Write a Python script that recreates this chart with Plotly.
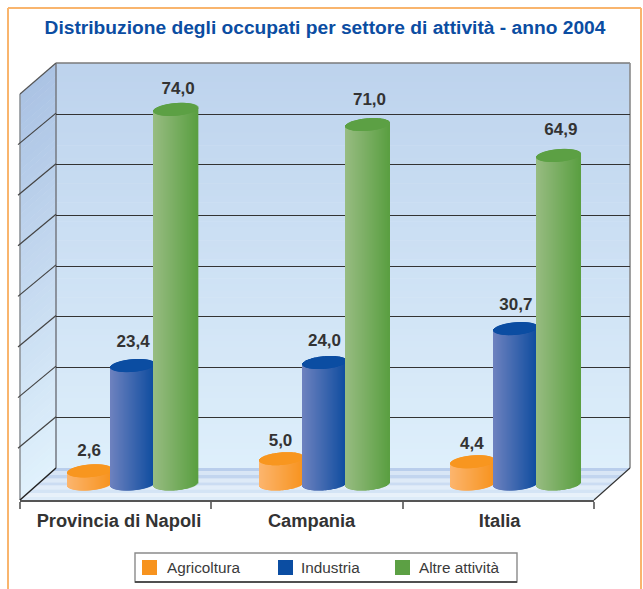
import numpy as np
import plotly.graph_objects as go

categories = ["Provincia di Napoli", "Campania", "Italia"]
agricoltura = [2.6, 5.0, 4.4]
industria = [23.4, 24.0, 30.7]
altre = [74.0, 71.0, 64.9]
series_names = ["Agricoltura", "Industria", "Altre attività"]
value_ticks = [0, 10, 20, 30, 40, 50, 60, 70]

W, H = 643, 589
FONT = "Liberation Sans"


def px(x):
    return x / W


def py(y):
    return 1 - y / H


def hex2rgb(c):
    return np.array([int(c[i:i + 2], 16) for i in (1, 3, 5)], float)


def mix(a, b, f):
    v = hex2rgb(a) * (1 - f) + hex2rgb(b) * f
    return "rgb(%d,%d,%d)" % tuple(np.round(v))


def path(points):
    s = "M" + " L".join(f"{px(a):.5f},{py(b):.5f}" for a, b in points) + " Z"
    return dict(type="path", path=s, xref="paper", yref="paper", layer="below", line_width=0)


shapes = []
# back wall
n = 64
for i in range(n):
    y0 = 63 + i * 405 / n
    y1 = y0 + 405 / n + 0.6
    s = path([(56, y0), (630, y0), (630, y1), (56, y1)])
    s["fillcolor"] = mix("#BDD3ED", "#DEEFFB", i / (n - 1))
    shapes.append(s)
# left wall
for i in range(n):
    f0 = i * 405 / n
    f1 = f0 + 405 / n + 0.6
    s = path([(20, 94 + f0), (56, 63 + f0), (56, 63 + f1), (20, 94 + f1)])
    s["fillcolor"] = mix("#ABC3E4", "#E0F1FC", i / (n - 1))
    shapes.append(s)
# floor bands
bands = 9
band = 32 / bands
for i in range(bands):
    y0, y1 = 468 + i * band, 468 + (i + 1) * band
    xl0, xl1 = 56 - (y0 - 468) * 36 / 32, 56 - (y1 - 468) * 36 / 32
    s = path([(xl0, y0), (xl0 + 574, y0), (xl1 + 574, y1), (xl1, y1)])
    f = i / (bands - 1)
    s["fillcolor"] = mix("#B9CEEC", "#DDEBF8", f) if i % 2 == 0 else mix("#D6E4F5", "#EAF3FB", f)
    shapes.append(s)


def seg(x0, y0, x1, y1, color, width):
    return dict(type="line", xref="paper", yref="paper", x0=px(x0), y0=py(y0), x1=px(x1), y1=py(y1),
                line=dict(color=color, width=width), layer="below")


# wall edges and side gridlines
shapes.append(seg(56, 63, 630, 63, "#7A7A7A", 1.5))
shapes.append(seg(630, 63, 630, 468, "#8A8A8A", 1.6))
shapes.append(seg(56, 63, 56, 468, "#7A7F88", 1.6))
shapes.append(seg(20, 94, 20, 500, "#8F9499", 1.6))
shapes.append(seg(20, 94, 56, 63, "#555555", 1.2))
for k in range(1, 8):
    yb = 63 + k * 50.6
    shapes.append(seg(18, yb + 31, 56, yb - 0.5, "#444444", 1.2))
shapes.append(seg(20, 500, 56, 468, "#222222", 1.5))
shapes.append(seg(594, 500, 630, 468, "#333333", 1.2))

# page frame
shapes.append(seg(8, 8, 641, 8, "#F9B56E", 2))
shapes.append(seg(8, 8, 8, 589, "#F9B56E", 2))
shapes.append(seg(641, 8, 641, 589, "#F9B56E", 2))

# legend box and swatches
legend_colors = ["#F7931E", "#0B4DA2", "#5CA044"]
legend_sw = [142, 278, 395]
legend_tx = [165, 299, 417]
shapes.append(dict(type="rect", xref="paper", yref="paper", x0=px(135), x1=px(517), y0=py(582), y1=py(553),
                   line=dict(color="#8A8A8A", width=1.4), fillcolor="white", layer="below"))
shapes.append(seg(135, 582, 517, 582, "#333333", 1.3))
annotations = []
for name, c, a, b in zip(series_names, legend_colors, legend_sw, legend_tx):
    shapes.append(dict(type="rect", xref="paper", yref="paper", x0=px(a), x1=px(a + 15), y0=py(575), y1=py(560),
                       line_width=0, fillcolor=c, layer="below"))
    annotations.append(dict(xref="paper", yref="paper", x=px(b), y=py(567.5), text=name, showarrow=False,
                            xanchor="left", yanchor="middle", font=dict(family=FONT, size=15.3, color="#3A3A3A")))

fig = go.Figure()

# wall subplot: carries the value gridlines
fig.add_trace(go.Scatter(x=[None], y=[None], xaxis="x", yaxis="y", showlegend=False, hoverinfo="skip"))

PX_PER_UNIT = 405 / 80
PX_PER_CAT = 574 / 3
bar_w = 44 / PX_PER_CAT
group_shift = 17.5 / PX_PER_CAT
series_step = 43 / PX_PER_CAT
cap_h = 6.3 / PX_PER_UNIT
tilt = 1.8 / PX_PER_UNIT
strips = 44
u = (np.arange(strips) + 0.5) / strips * 2 - 1
rim = np.sqrt(1 - u ** 2)

styles = [("#FCB56E", "#F7931E", "#F8961F"),
          ("#6E82BF", "#0E4C9F", "#0B4DA2"),
          ("#98BC82", "#5A9F41", "#5CA044")]

for si, (name, vals, (light, dark, cap)) in enumerate(zip(series_names, [agricoltura, industria, altre], styles)):
    xs, tops, bases, colors = [], [], [], []
    cx, cy, cb = [], [], []
    for ci, v in enumerate(vals):
        xc = ci + group_shift + (si - 1) * series_step
        xs.extend(xc + u * bar_w / 2)
        base = -cap_h * rim + tilt * u
        top = v + tilt * u
        bases.extend(base)
        tops.extend(top - base)
        colors.extend(mix(light, dark, (t + 1) / 2) for t in u)
        cx.extend(xc + u * bar_w / 2)
        cb.extend(top - cap_h * rim)
        cy.extend(2 * cap_h * rim)
    stripw = 1.35 / PX_PER_CAT
    fig.add_trace(go.Bar(x=xs, y=tops, base=bases, width=stripw, name=name, marker=dict(color=colors, line_width=0),
                         xaxis="x2", yaxis="y2", showlegend=False, hoverinfo="skip"))
    fig.add_trace(go.Bar(x=cx, y=cy, base=cb, width=stripw, name=name, marker=dict(color=cap, line_width=0),
                         xaxis="x2", yaxis="y2", showlegend=False, hoverinfo="skip"))

# data-label placement, pixels relative to each mark (series by category)
label_dx = [-1, 0, 2]
label_dy = [[19.5, 16.5, 16.5], [22.8, 20.8, 22.8], [19.8, 23.8, 24.8]]
for si, vals in enumerate([agricoltura, industria, altre]):
    fig.add_trace(go.Scatter(
        x=[ci + group_shift + (si - 1) * series_step + label_dx[si] / PX_PER_CAT for ci in range(3)],
        y=[v + d / PX_PER_UNIT for v, d in zip(vals, label_dy[si])],
        text=[f"{v:.1f}".replace(".", ",") for v in vals],
        mode="text", textposition="middle center",
        textfont=dict(family=FONT, size=17, color="#333333", weight="bold"),
        xaxis="x2", yaxis="y2", showlegend=False, hoverinfo="skip"))

label_pos = [0.017, 1.024, 2.007]
boundaries = [-0.5, 0.5, 1.5, 2.5]

fig.update_layout(
    width=W, height=H, autosize=False,
    margin=dict(l=0, r=0, t=0, b=0),
    paper_bgcolor="white", plot_bgcolor="rgba(0,0,0,0)",
    barmode="overlay", showlegend=False,
    shapes=shapes, annotations=annotations,
    title=dict(text="Distribuzione degli occupati per settore di attività - anno 2004",
               x=325 / W, xanchor="center", xref="paper", y=py(27), yanchor="middle", yref="paper",
               font=dict(family=FONT, size=19.2, color="#0B4DA2", weight="bold")),
    xaxis=dict(domain=[px(56), px(630)], range=[0, 1], visible=False, anchor="y"),
    yaxis=dict(domain=[py(468.6), py(63.6)], range=[0, 80], anchor="x", tickmode="array", tickvals=value_ticks,
               showgrid=True, gridcolor="#333333", gridwidth=1.3, zeroline=False, showticklabels=False,
               ticks="", showline=False),
    xaxis2=dict(domain=[px(20), px(594)], range=[-0.5, 2.5], anchor="y2", type="linear",
                tickmode="array", tickvals=label_pos, ticktext=categories, ticks="", showgrid=False, zeroline=False,
                showline=True, linecolor="#555555", linewidth=1.5, ticklabelstandoff=3,
                tickfont=dict(family=FONT, size=18.3, color="#333333", weight="bold"),
                minor=dict(tickmode="array", tickvals=boundaries, ticks="outside", ticklen=7,
                           tickcolor="#777777", tickwidth=1.5, showgrid=False)),
    yaxis2=dict(domain=[py(500), py(63)], range=[-16 / PX_PER_UNIT, 421 / PX_PER_UNIT], anchor="x2", visible=False),
)

fig.write_html("out.html", config=dict(displayModeBar=False),
               post_script="document.body.style.margin='0';document.body.style.overflow='hidden';")
